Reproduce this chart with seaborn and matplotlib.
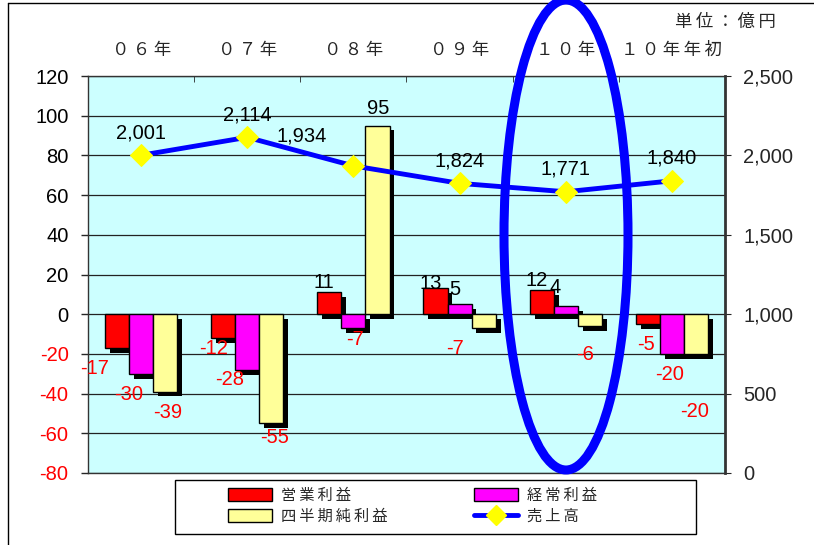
import numpy as np
import pandas as pd
import matplotlib
matplotlib.use("Agg")
import matplotlib.pyplot as plt
import matplotlib.patheffects as pe
from matplotlib.patches import Ellipse, Rectangle, Patch
from matplotlib.lines import Line2D
import seaborn as sns

# data
years = ["０６年", "０７年", "０８年", "０９年", "１０年", "１０年年初"]
series_names = ["営業利益", "経常利益", "四半期純利益"]
operating = [-17, -12, 11, 13, 12, -5]
ordinary = [-30, -28, -7, 5, 4, -20]
net_income = [-39, -55, 95, -7, -6, -20]
sales = [2001, 2114, 1934, 1824, 1771, 1840]
sales_name = "売上高"
unit_label = "単位：億円"
left_ticks = list(range(-80, 121, 20))
right_ticks = list(range(0, 2501, 500))

df = pd.DataFrame({
    "year": years * 3,
    "series": np.repeat(series_names, len(years)),
    "value": operating + ordinary + net_income,
})

sns.set_style("white")
plt.rcParams["font.family"] = ["Liberation Sans", "Noto Sans CJK JP", "DejaVu Sans"]


def spaced(s):
    # letter-spaced look of the original chart
    return "\u2009".join(s)


bar_colors = ["#FF0000", "#FF00FF", "#FFFF99"]
bg = "#CCFFFF"
num_size = 14.5

fig = plt.figure(figsize=(8.14, 5.45), dpi=100)
ax = fig.add_axes([88 / 814, 1 - 473 / 545, (725 - 88) / 814, (473 - 76) / 545])
ax.set_facecolor(bg)

sns.barplot(data=df, x="year", y="value", hue="series", palette=bar_colors,
            width=0.68, saturation=1, edgecolor="black", linewidth=1,
            ax=ax, legend=False, zorder=3)

shadow = [pe.SimplePatchShadow(offset=(3.5, -3.5), shadow_rgbFace="black", alpha=1), pe.Normal()]
for bar in ax.patches:
    bar.set_path_effects(shadow)

ax.set_xlim(-0.5, len(years) - 0.5)
ax.set_ylim(-80, 120)
ax.set_xticks(range(len(years)))
ax.set_xticklabels([spaced(y) for y in years])
ax.set_yticks(left_ticks)
ax.set_yticklabels([str(t) for t in left_ticks])
for lab, t in zip(ax.get_yticklabels(), left_ticks):
    lab.set_color("#FF0000" if t < 0 else "black")
ax.grid(axis="y", color="#222222", lw=0.9, zorder=0)
ax.set_axisbelow(True)
ax.set_xlabel("")
ax.set_ylabel("")
ax.xaxis.tick_top()
ax.tick_params(axis="x", length=0, pad=13, labelsize=12.5)
ax.set_xticks(np.arange(-0.5, len(years)), minor=True)
ax.tick_params(axis="x", which="minor", top=True, bottom=False, direction="in", length=4)
ax.tick_params(axis="y", length=5, width=1, direction="out", pad=9, labelsize=num_size)
for side in ["left", "top", "bottom"]:
    ax.spines[side].set_color("#333333")
    ax.spines[side].set_linewidth(1)
ax.spines["right"].set_visible(False)

# bar value labels (offsets in pixels, nudged where the original moved them)
px = 0.72
neg_dx = [-12, -12, 3]
nudge = {
    (0, 0): (-10, 0), (0, 1): (2, 10), (0, 5): (10, 0), (0, 3): (0, -5),
    (1, 1): (-6, 11), (1, 2): (14, 9), (1, 5): (10, 0),
    (1, 3): (0, 5), (1, 4): (-6, 9),
    (2, 1): (0, 6), (2, 2): (6, 8), (2, 3): (-32, 0), (2, 4): (-8, -8),
    (2, 5): (-4, -37),
}
for i, cont in enumerate(ax.containers):
    for j, (bar, v) in enumerate(zip(cont, [operating, ordinary, net_income][i])):
        xc = bar.get_x() + bar.get_width() / 2
        dx, dy = nudge.get((i, j), (0, 0))
        if v < 0:
            ax.annotate(f"{v}", (xc, v), xytext=((neg_dx[i] + dx) * px, (-11 + dy) * px),
                        textcoords="offset points", ha="center", va="top",
                        color="#FF0000", fontsize=num_size, zorder=6)
        else:
            ax.annotate(f"{v}", (xc, v), xytext=((-5 + dx) * px, dy * px),
                        textcoords="offset points", ha="center", va="bottom",
                        color="black", fontsize=num_size, zorder=6)

# sales line
ax2 = ax.twinx()
sns.lineplot(x=np.arange(len(sales)), y=sales, ax=ax2, color="#0000FF", lw=3.5,
             marker="D", markersize=11, markerfacecolor="#FFFF00",
             markeredgecolor="#FFFF00")
ax2.set_ylim(0, 2500)
ax2.set_yticks(right_ticks)
ax2.set_yticklabels([f"{t:,}" for t in right_ticks])
ax2.tick_params(axis="y", length=4, direction="out", pad=9, labelsize=num_size)
for side in ["left", "top", "bottom"]:
    ax2.spines[side].set_visible(False)
ax2.spines["right"].set_color("#333333")
ax2.spines["right"].set_linewidth(2)

label_nudge = {2: (-52, 7)}
for j, v in enumerate(sales):
    dx, dy = label_nudge.get(j, (0, 0))
    ax2.annotate(f"{v:,}", (j, v), xytext=(dx * px, (13 + dy) * px),
                 textcoords="offset points", ha="center", va="bottom",
                 fontsize=num_size, color="black")

fig.text(776 / 814, 1 - 22 / 545, spaced(unit_label), ha="right", va="center", fontsize=12.5)

# highlight ellipse
fig.add_artist(Ellipse((566 / 814, 1 - 235 / 545), 124 / 814, 470 / 545,
                       transform=fig.transFigure, fill=False,
                       edgecolor="#0000FF", lw=6.5, zorder=10))

# outer border
fig.add_artist(Line2D([8 / 814, 8 / 814], [0, 1 - 3 / 545], transform=fig.transFigure,
                      color="black", lw=1))
fig.add_artist(Line2D([8 / 814, 1], [1 - 3 / 545, 1 - 3 / 545], transform=fig.transFigure,
                      color="black", lw=1))

# legend
fig.add_artist(Rectangle((175 / 814, 1 - 534 / 545), (696 - 175) / 814, 54 / 545,
                         transform=fig.transFigure, fill=False, edgecolor="black", lw=1))
handles = [
    Patch(facecolor=bar_colors[0], edgecolor="black", label=spaced(series_names[0])),
    Patch(facecolor=bar_colors[2], edgecolor="black", label=spaced(series_names[2])),
    Patch(facecolor=bar_colors[1], edgecolor="black", label=spaced(series_names[1])),
    Line2D([], [], color="#0000FF", lw=3.5, marker="D", markersize=10,
           markerfacecolor="#FFFF00", markeredgecolor="#FFFF00", label=spaced(sales_name)),
]
fig.legend(handles=handles, ncol=2, loc="upper left",
           bbox_to_anchor=(228 / 814, 1 - 488 / 545), frameon=False,
           fontsize=11, handlelength=2.9, handleheight=0.9, handletextpad=0.6,
           columnspacing=5.6, labelspacing=0.45, borderpad=0, borderaxespad=0)

fig.savefig("out.png", dpi=100)
